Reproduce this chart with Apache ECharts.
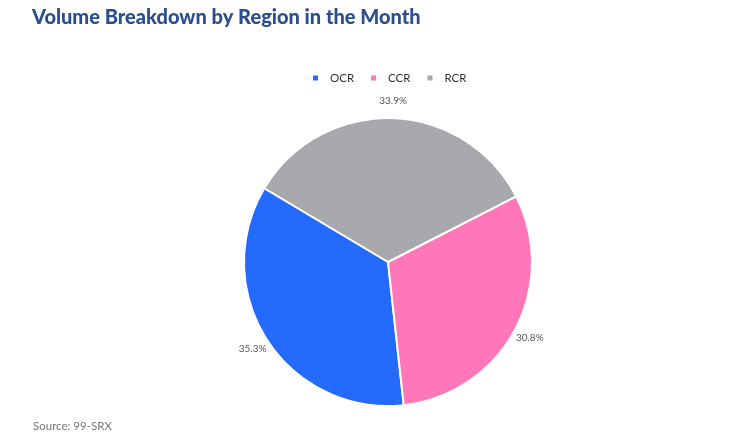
<!DOCTYPE html>
<html>
<head>
<meta charset="utf-8">
<script src="https://cdn.jsdelivr.net/npm/echarts@6/dist/echarts.min.js"></script>
<style>
  html, body { margin: 0; padding: 0; background: #fff; }
  #main { width: 750px; height: 442px; }
</style>
</head>
<body>
<div id="main"></div>
<script>
var regions = ['OCR', 'CCR', 'RCR'];
var shares = [35.3, 30.8, 33.9];
var colors = ['#246BFD', '#FF77B9', '#A8A9AD'];

var myChart = echarts.init(document.getElementById('main'));

var pieData = regions.map(function (name, i) {
    return { name: name, value: shares[i] };
});

var option = {
    color: colors,
    animation: false,
    title: [{
        text: 'Volume Breakdown by Region in the Month',
        left: 27,
        top: 3,
        textStyle: {
            fontFamily: 'Lato',
            fontWeight: 900,
            fontSize: 20,
            color: '#2B4E8F'
        }
    }, {
        text: 'Source: 99-SRX',
        left: 28,
        top: 415,
        textStyle: {
            fontFamily: 'Lato',
            fontWeight: 'normal',
            fontSize: 11.5,
            color: '#777'
        }
    }],
    legend: {
        data: regions,
        top: 67,
        left: 306,
        icon: 'rect',
        itemWidth: 7,
        itemHeight: 7,
        itemGap: 15,
        textStyle: {
            fontFamily: 'Lato',
            fontSize: 11.5,
            color: '#333',
            padding: [0, 0, 0, 6]
        }
    },
    series: [{
        name: 'Volume',
        type: 'pie',
        center: [388, 262],
        radius: [0, 144],
        startAngle: 149.2,
        clockwise: false,
        data: pieData,
        itemStyle: {
            borderColor: '#fff',
            borderWidth: 2
        },
        label: { show: false },
        labelLine: { show: false }
    }, {
        name: 'Labels',
        type: 'pie',
        center: [388, 262],
        radius: [0, 316],
        startAngle: 149.2,
        clockwise: false,
        silent: true,
        z: 1,
        data: pieData,
        itemStyle: { color: 'rgba(0,0,0,0)' },
        label: {
            show: true,
            position: 'inside',
            formatter: function (p) { return p.value.toFixed(1) + '%'; },
            fontFamily: 'Lato',
            fontSize: 10,
            color: '#555'
        },
        labelLine: { show: false }
    }]
};

myChart.setOption(option);
</script>
</body>
</html>
